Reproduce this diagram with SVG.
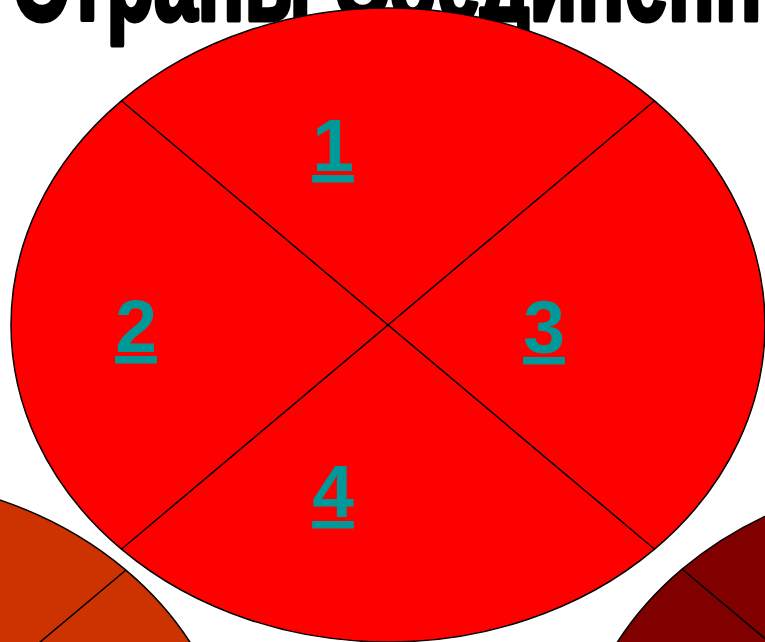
<svg xmlns="http://www.w3.org/2000/svg" width="765" height="642" viewBox="0 0 765 642">
<style>
.title{font-family:"Liberation Sans Narrow","Liberation Sans",Arial,sans-serif;font-weight:bold;font-size:120px;fill:#000;stroke:#000;stroke-width:5;stroke-linejoin:round}
.ell{stroke:#000;stroke-width:1.5}
.div{stroke:#000;stroke-width:1.5;fill:none}
.num{font-family:"Liberation Sans",Arial,sans-serif;font-weight:bold;font-size:75px;fill:#009999;text-anchor:middle;text-decoration:underline}
</style>
<rect width="765" height="642" fill="#fff"/>
<text class="title" x="12" y="20" textLength="860" lengthAdjust="spacingAndGlyphs">Страны Соединенных</text>
<g id="node-bl">
<ellipse class="ell" cx="-141" cy="794" rx="377" ry="317" fill="#CC3300"/>
<line class="div" x1="126" y1="570" x2="-408" y2="1018"/>
</g>
<g id="node-br">
<ellipse class="ell" cx="949" cy="793" rx="377" ry="317" fill="#800000"/>
<line class="div" x1="682" y1="569" x2="1216" y2="1017"/>
</g>
<g id="node-main">
<ellipse class="ell" cx="388" cy="325" rx="377" ry="317" fill="#FF0000"/>
</g>
<g id="connectors">
<line class="div" x1="121.4" y1="100.8" x2="654.6" y2="549.2"/>
<line class="div" x1="654.6" y1="100.8" x2="121.4" y2="549.2"/>
</g>
<g id="label-1"><text class="num" x="333" y="171">1</text></g>
<g id="label-2"><text class="num" x="136" y="352">2</text></g>
<g id="label-3"><text class="num" x="544" y="353">3</text></g>
<g id="label-4"><text class="num" x="333" y="517">4</text></g>
</svg>
